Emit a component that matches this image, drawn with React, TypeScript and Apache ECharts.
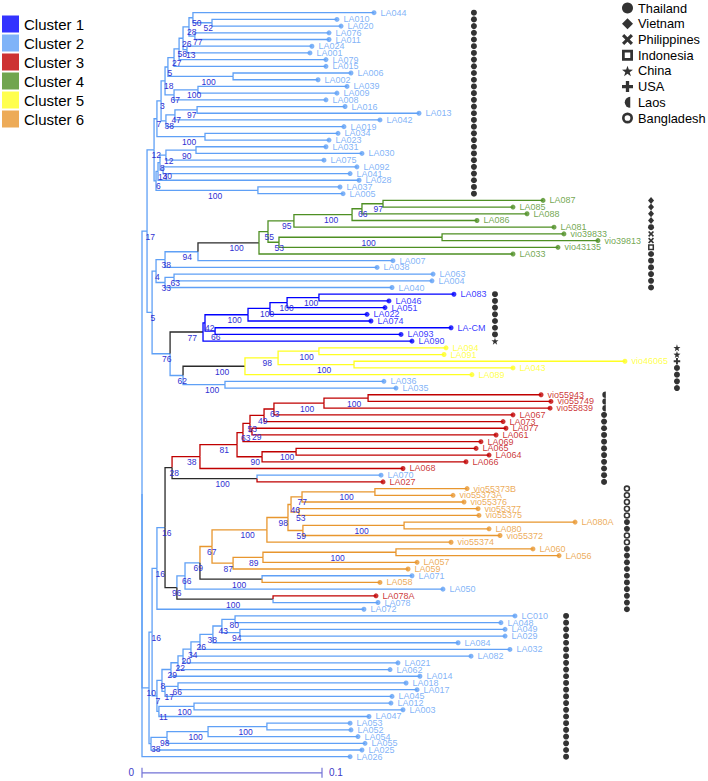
import React, { useEffect, useRef } from "react";
import * as echarts from "echarts";

// ---------------- DATA ----------------
const leafNames: string[] = [
  "LA044","LA010","LA020","LA076","LA011","LA024","LA001","LA079","LA015","LA006","LA002","LA039","LA009","LA008",
  "LA016","LA013","LA042","LA019","LA034","LA023","LA031","LA030","LA075","LA092","LA041","LA028","LA037","LA005",
  "LA087","LA085","LA088","LA086","LA081","vio39833","vio39813","vio43135","LA033","LA007","LA038","LA063","LA004","LA040",
  "LA083","LA046","LA051","LA022","LA074","LA-CM","LA093","LA090",
  "LA094","LA091","vio46065","LA043","LA089","LA036","LA035",
  "vio55943","vio55749","vio55839","LA067","LA073","LA077","LA061","LA069","LA065","LA064","LA066","LA068","LA070","LA027",
  "vio55373B","vio55373A","vio55376","vio55377","vio55375","LA080A","LA080","vio55372","vio55374","LA060","LA056","LA057",
  "LA059","LA071","LA058","LA050","LA078A","LA078","LA072",
  "LC010","LA048","LA049","LA029","LA084","LA032","LA082","LA021","LA062","LA014","LA018","LA017","LA045","LA012","LA003",
  "LA047","LA053","LA052","LA054","LA055","LA025","LA026",
];

// distance of each tip from the root (substitutions per site)
const leafDepths: number[] = [
  0.1289,0.1083,0.1106,0.1039,0.1039,0.0944,0.0933,0.1022,0.1022,0.1161,0.0978,0.1139,0.1083,0.1022,
  0.1128,0.1539,0.1322,0.1122,0.1089,0.1039,0.1022,0.1222,0.1011,0.1194,0.1156,0.1206,0.1100,0.1117,
  0.2228,0.2061,0.2139,0.1861,0.2289,0.2344,0.2533,0.2311,0.2061,0.1394,0.1306,0.1617,0.1611,0.1389,
  0.1733,0.1372,0.1350,0.1250,0.1272,0.1717,0.1439,0.1500,
  0.1689,0.1678,0.2683,0.2061,0.1833,0.1344,0.1411,
  0.2217,0.2272,0.2267,0.2061,0.2006,0.2022,0.1967,0.1883,0.1856,0.1928,0.1800,0.1450,0.1328,0.1339,
  0.1806,0.1728,0.1789,0.1867,0.1872,0.2406,0.1928,0.1989,0.1717,0.2172,0.2317,0.1528,
  0.1478,0.1500,0.1322,0.1672,0.1300,0.1311,0.1233,
  0.2072,0.1994,0.2017,0.2017,0.1756,0.2044,0.1828,0.1422,0.1378,0.1544,0.1467,0.1528,0.1389,0.1383,0.1450,
  0.1261,0.1156,0.1161,0.1200,0.1239,0.1222,0.1156,
];

const leafClusters: number[] = [
  2,2,2,2,2,2,2,2,2,2,2,2,2,2,
  2,2,2,2,2,2,2,2,2,2,2,2,2,2,
  4,4,4,4,4,4,4,4,4,2,2,2,2,2,
  1,1,1,1,1,1,1,1,
  5,5,5,5,5,2,2,
  3,3,3,3,3,3,3,3,3,3,3,3,2,3,
  6,6,6,6,6,6,6,6,6,6,6,6,
  6,2,6,2,3,2,2,
  2,2,2,2,2,2,2,2,2,2,2,2,2,2,2,
  2,2,2,2,2,2,2,
];

// T Thailand, V Vietnam, P Philippines, I Indonesia, C China, U USA, L Laos, B Bangladesh
const leafCountries: string[] = [
  "T","T","T","T","T","T","T","T","T","T","T","T","T","T",
  "T","T","T","T","T","T","T","T","T","T","T","T","T","T",
  "V","V","V","V","T","P","P","I","T","T","T","T","T","T",
  "T","T","T","T","T","T","T","C",
  "C","C","U","T","T","T","T",
  "L","L","L","T","T","T","T","T","T","T","T","T","T","T",
  "B","B","B","B","B","T","T","B","B","T","T","T",
  "T","T","T","T","T","T","T",
  "T","T","T","T","T","T","T","T","T","T","T","T","T","T","T",
  "T","T","T","T","T","T","T",
];

// internal nodes: id, depth, bootstrap, stem colour (0 = black, 1-6 = cluster), children (tip index or node id)
const treeNodes: [string, number, number | null, number, (number | string)[]][] = [
  ["ROOT", 0, null, 2, ["A17", "B4", 111]],
  ["A17", 0.0028, 17, 2, ["T27", "A5"]],
  ["T27", 0.0067, 12, 2, ["T19", "T26"]],
  ["T19", 0.0083, 7, 2, ["T18", "T17"]],
  ["T18", 0.0106, 3, 2, ["T13", "T16"]],
  ["T13", 0.0128, 18, 2, ["T10", "T12"]],
  ["T10", 0.0144, 5, 2, ["T8", "T9"]],
  ["T8", 0.0178, 27, 2, ["T7", 8]],
  ["T7", 0.0206, 58, 2, ["T6", 7]],
  ["T6", 0.0228, 26, 2, ["T4", "T5"]],
  ["T4", 0.0261, 28, 2, ["T2", "T3"]],
  ["T2", 0.0283, 50, 2, [0, "T1"]],
  ["T1", 0.0389, 52, 2, [1, 2]],
  ["T3", 0.0294, 77, 2, [3, 4]],
  ["T5", 0.0250, 13, 2, [5, 6]],
  ["T9", 0.0506, 100, 2, [9, 10]],
  ["T12", 0.0178, 67, 2, ["T11", 13]],
  ["T11", 0.0311, 100, 2, [11, 12]],
  ["T16", 0.0133, 38, 2, ["T15", 17]],
  ["T15", 0.0183, 47, 2, ["T14", 16]],
  ["T14", 0.0306, 97, 2, [14, 15]],
  ["T17", 0.0350, 100, 2, [18, 19]],
  ["T26", 0.0078, 6, 2, ["T24", "T25"]],
  ["T24", 0.0089, 14, 2, ["T23", 25]],
  ["T23", 0.0100, 8, 2, ["T21", "T22"]],
  ["T21", 0.0133, 12, 2, ["T20", 22]],
  ["T20", 0.0300, 90, 2, [20, 21]],
  ["T22", 0.0117, 30, 2, [23, 24]],
  ["T25", 0.0644, 100, 2, [26, 27]],
  ["A5", 0.0056, 5, 2, ["A4", "A76"]],
  ["A4", 0.0078, 4, 2, ["A38", "A33"]],
  ["A38", 0.0128, 38, 2, ["A94", 38]],
  ["A94", 0.0311, 94, 2, ["G8", 37]],
  ["G8", 0.0650, 100, 0, ["G7", 36]],
  ["G7", 0.0700, 55, 4, ["G4", "G6"]],
  ["G4", 0.0844, 95, 4, ["G3", 32]],
  ["G3", 0.1167, 100, 4, ["G2", 31]],
  ["G2", 0.1222, 66, 4, ["G1", 30]],
  ["G1", 0.1339, 97, 4, [28, 29]],
  ["G6", 0.0761, 53, 4, ["G5", 35]],
  ["G5", 0.1667, 100, 4, [33, 34]],
  ["A33", 0.0128, 33, 2, ["A63", 41]],
  ["A63", 0.0178, 63, 2, [39, 40]],
  ["A76", 0.0156, 76, 2, ["C7", "A62"]],
  ["C7", 0.0339, 77, 0, ["C6", 49]],
  ["C6", 0.0350, 42, 1, ["C4", "C5"]],
  ["C4", 0.0589, 100, 1, ["C3", 46]],
  ["C3", 0.0711, 100, 1, ["C2", 45]],
  ["C2", 0.0806, 100, 1, ["C1", 44]],
  ["C1", 0.0983, 100, 1, [42, 43]],
  ["C5", 0.0406, 66, 1, [47, 48]],
  ["A62", 0.0228, 62, 2, ["Y4", "A35"]],
  ["Y4", 0.0572, 100, 0, ["Y3", 54]],
  ["Y3", 0.0756, 98, 5, ["Y1", "Y2"]],
  ["Y1", 0.0983, 100, 5, [50, 51]],
  ["Y2", 0.1178, 100, 5, [52, 53]],
  ["A35", 0.0461, 100, 2, [55, 56]],
  ["B4", 0.0039, 10, 2, ["B3", "Q4"]],
  ["B3", 0.0056, 16, 2, ["B2", "P13"]],
  ["B2", 0.0083, 16, 2, ["B1", 89]],
  ["B1", 0.0128, 16, 2, ["K28", "O14"]],
  ["K28", 0.0167, 28, 0, ["R10", "K100"]],
  ["R10", 0.0322, 38, 3, ["R7", 68]],
  ["R7", 0.0528, 81, 3, ["R6", "R9"]],
  ["R6", 0.0561, 63, 3, ["R5", 64]],
  ["R5", 0.0600, 53, 3, ["R4", "R5a"]],
  ["R4", 0.0678, 49, 3, ["R3", 61]],
  ["R3", 0.0733, 63, 3, ["R2", 60]],
  ["R2", 0.1011, 100, 3, ["R1", 59]],
  ["R1", 0.1256, 100, 3, [57, 58]],
  ["R5a", 0.0611, 29, 3, [62, 63]],
  ["R9", 0.0667, 90, 3, ["R8", 67]],
  ["R8", 0.0856, 100, 3, [65, 66]],
  ["K100", 0.0639, 100, 0, [69, 70]],
  ["O14", 0.0194, 96, 0, ["O13", "K78"]],
  ["O13", 0.0239, 66, 2, ["O12", 86]],
  ["O12", 0.0322, 69, 2, ["O9", "K71"]],
  ["O9", 0.0389, 67, 6, ["O8", "O11"]],
  ["O8", 0.0694, 100, 6, ["O7", 79]],
  ["O7", 0.0811, 98, 6, ["O4", "O6"]],
  ["O4", 0.0828, 46, 6, ["O2", "O3"]],
  ["O2", 0.0889, 77, 6, ["O1", 73]],
  ["O1", 0.1294, 100, 6, [71, 72]],
  ["O3", 0.0872, 53, 6, [74, 75]],
  ["O6", 0.0894, 59, 6, ["O5", 78]],
  ["O5", 0.1456, 100, 6, [76, 77]],
  ["O11", 0.0506, 87, 6, ["O11a", 83]],
  ["O11a", 0.0672, 89, 6, ["O10", 82]],
  ["O10", 0.1411, 100, 6, [80, 81]],
  ["K71", 0.0667, 100, 0, [84, 85]],
  ["K78", 0.0728, 100, 0, [87, 88]],
  ["P13", 0.0083, 7, 2, ["P12", "Q6"]],
  ["P12", 0.0111, 8, 2, ["P9", "P11"]],
  ["P9", 0.0161, 29, 2, ["P8", 99]],
  ["P8", 0.0200, 22, 2, ["P7", 98]],
  ["P7", 0.0228, 20, 2, ["P6", 97]],
  ["P6", 0.0272, 34, 2, ["P5", 96]],
  ["P5", 0.0322, 26, 2, ["P4", 95]],
  ["P4", 0.0394, 38, 2, ["P3", 94]],
  ["P3", 0.0444, 43, 2, ["P1", "P2"]],
  ["P1", 0.0517, 80, 2, [90, 91]],
  ["P2", 0.0544, 94, 2, [92, 93]],
  ["P11", 0.0128, 17, 2, ["P10", 102]],
  ["P10", 0.0200, 66, 2, [100, 101]],
  ["Q6", 0.0094, 11, 2, ["Q5", 105]],
  ["Q5", 0.0289, 100, 2, [103, 104]],
  ["Q4", 0.0050, 38, 2, ["Q3", 110]],
  ["Q3", 0.0139, 98, 2, ["Q2", 109]],
  ["Q2", 0.0367, 100, 2, ["Q1", 108]],
  ["Q1", 0.0694, 100, 2, [106, 107]],
];

const clusterNames = ["Cluster 1", "Cluster 2", "Cluster 3", "Cluster 4", "Cluster 5", "Cluster 6"];
const countryNames = ["Thailand", "Vietnam", "Philippines", "Indonesia", "China", "USA", "Laos", "Bangladesh"];
const countryCodes = ["T", "V", "P", "I", "C", "U", "L", "B"];
const scaleBarValues = [0, 0.1];

// ---------------- STYLE / LAYOUT ----------------
const FONT = '"Liberation Sans", Arial, Helvetica, sans-serif';
const COLORS = ["#2a2a2a", "#0000FF", "#5FA0F6", "#C00000", "#4E8F23", "#FFFF22", "#E8962E"];
const BS_COLOR = "#2f2fd2";
// marker columns: [first tip, last tip, x position in axis units]
const markerColumns: [number, number, number][] = [
  [0, 27, 0.1844], [28, 41, 0.2828], [42, 49, 0.1961], [50, 56, 0.2972],
  [57, 70, 0.2567], [71, 89, 0.2694], [90, 111, 0.2356],
];
const SCALE_Y = 113.4;

const P_CROSS = "path://M0,2L2,0L5,3L8,0L10,2L7,5L10,8L8,10L5,7L2,10L0,8L3,5Z";
const P_HSQUARE = "path://M0,0H10V10H0Z M2.5,2.5V7.5H7.5V2.5Z";
const P_STAR = "path://M5,0L6.2,3.5L10,3.6L7,5.9L8.1,9.5L5,7.4L1.9,9.5L3,5.9L0,3.6L3.8,3.5Z";
const P_PLUS = "path://M3.5,0H6.5V3.5H10V6.5H6.5V10H3.5V6.5H0V3.5H3.5Z";
const P_HALF = "path://M6,0A6,6,0,0,0,6,12Z";
const P_RING = "path://M5,0A5,5,0,1,1,5,10A5,5,0,1,1,5,0Z M5,2.4A2.6,2.6,0,1,0,5,7.6A2.6,2.6,0,1,0,5,2.4Z";

const countrySymbols: Record<string, { symbol: string; size: number | number[] }> = {
  T: { symbol: "circle", size: 6 },
  V: { symbol: "diamond", size: [6, 7] },
  P: { symbol: P_CROSS, size: 6 },
  I: { symbol: P_HSQUARE, size: 6 },
  C: { symbol: P_STAR, size: 7 },
  U: { symbol: P_PLUS, size: 6.5 },
  L: { symbol: P_HALF, size: [3.5, 6.5] },
  B: { symbol: P_RING, size: 6.5 },
};

// ---------------- BUILD TREE GEOMETRY ----------------
type TNode = { id: string; x: number; bs: number | null; color: number; children: (number | string)[]; y?: number };
function buildTree() {
  const map = new Map<string, TNode>();
  treeNodes.forEach((n) => map.set(n[0], { id: n[0], x: n[1], bs: n[2], color: n[3], children: n[4] }));
  const getY = (ref: number | string): number => {
    if (typeof ref === "number") return ref;
    const n = map.get(ref)!;
    if (n.y === undefined) {
      const ys = n.children.map(getY);
      n.y = (ys[0] + ys[ys.length - 1]) / 2;
    }
    return n.y;
  };
  const getX = (ref: number | string) => (typeof ref === "number" ? leafDepths[ref] : map.get(ref)!.x);
  const getC = (ref: number | string) => (typeof ref === "number" ? leafClusters[ref] : map.get(ref)!.color);
  const edges: number[][] = [];
  const labels: number[][] = [];
  treeNodes.forEach((t) => {
    const node = map.get(t[0])!;
    const py = getY(node.id);
    node.children.forEach((c) => {
      edges.push([node.x, py, getX(c), getY(c), getC(c)]);
      if (typeof c === "string") {
        const cn = map.get(c)!;
        if (cn.bs !== null) labels.push([(node.x + cn.x) / 2, getY(c), cn.bs]);
      }
    });
  });
  return { edges, labels };
}

function columnX(i: number): number {
  const col = markerColumns.find((c) => i >= c[0] && i <= c[1]);
  return col ? col[2] : 0;
}

export default function App() {
  const ref = useRef<HTMLDivElement>(null);
  useEffect(() => {
    if (!ref.current) return;
    const chart = echarts.init(ref.current, undefined, { renderer: "svg" });
    const { edges, labels } = buildTree();

    const tipSeries = clusterNames.map((name, k) => ({
      type: "scatter",
      name,
      symbol: "circle",
      symbolSize: 5,
      z: 4,
      silent: true,
      itemStyle: { color: COLORS[k + 1] },
      label: {
        show: true, position: "right", distance: 4, formatter: "{b}",
        fontSize: 9, fontFamily: FONT, color: COLORS[k + 1],
      },
      data: leafNames
        .map((nm, i) => (leafClusters[i] === k + 1 ? { name: nm, value: [leafDepths[i], i] } : null))
        .filter((d) => d !== null),
    }));

    const countrySeries = countryNames.map((name, k) => {
      const code = countryCodes[k];
      const s = countrySymbols[code];
      return {
        type: "scatter",
        name,
        symbol: s.symbol,
        symbolSize: s.size,
        z: 4,
        silent: true,
        itemStyle: { color: "#000" },
        data: leafCountries
          .map((c, i) => (c === code ? [columnX(i), i] : null))
          .filter((d) => d !== null),
      };
    });

    const option: any = {
      animation: false,
      backgroundColor: "#fff",
      grid: { left: 142, right: 26, top: 12.7, bottom: 24.3, containLabel: false },
      xAxis: { type: "value", min: 0, max: 0.3, show: false },
      yAxis: { type: "value", min: 0, max: 111, inverse: true, show: false },
      legend: [
        {
          data: clusterNames.map((n) => ({ name: n, icon: "rect" })),
          orient: "vertical", left: 2, top: 15.5, padding: 0, itemWidth: 17, itemHeight: 17, itemGap: 2,
          selectedMode: false,
          textStyle: { fontSize: 15, fontFamily: FONT, color: "#000", lineHeight: 17 },
        },
        {
          data: countryNames.map((n, k) => ({ name: n, icon: countrySymbols[countryCodes[k]].symbol })),
          orient: "vertical", left: 622, top: 1.6, padding: 0, itemWidth: 11, itemHeight: 11, itemGap: 2.7,
          selectedMode: false,
          textStyle: { fontSize: 12.8, fontFamily: FONT, color: "#000", lineHeight: 12 },
        },
      ],
      series: [
        {
          type: "custom",
          name: "branches",
          coordinateSystem: "cartesian2d",
          clip: false,
          silent: true,
          z: 2,
          encode: { x: [0, 2], y: [1, 3] },
          data: edges,
          renderItem: (_p: any, api: any) => {
            const x1 = api.value(0), y1 = api.value(1), x2 = api.value(2), y2 = api.value(3);
            const a = api.coord([x1, y1]);
            const b = api.coord([x1, y2]);
            const c = api.coord([x2, y2]);
            return {
              type: "polyline",
              shape: { points: [a, b, c] },
              style: { stroke: COLORS[api.value(4)], lineWidth: 1.3, fill: null, lineJoin: "miter" },
            };
          },
        },
        {
          type: "custom",
          name: "bootstrap",
          coordinateSystem: "cartesian2d",
          clip: false,
          silent: true,
          z: 3,
          encode: { x: 0, y: 1 },
          data: labels,
          renderItem: (_p: any, api: any) => {
            const p = api.coord([api.value(0), api.value(1)]);
            return {
              type: "text",
              x: p[0] + 1,
              y: p[1] + 5.5,
              style: {
                text: String(api.value(2)), fill: BS_COLOR, fontSize: 8.5, fontFamily: FONT,
                align: "left", verticalAlign: "middle",
              },
            };
          },
        },
        {
          type: "custom",
          name: "scalebar",
          coordinateSystem: "cartesian2d",
          clip: false,
          silent: true,
          encode: { x: [0, 1], y: 2 },
          data: [[scaleBarValues[0], scaleBarValues[1], SCALE_Y]],
          renderItem: (_p: any, api: any) => {
            const a = api.coord([api.value(0), api.value(2)]);
            const b = api.coord([api.value(1), api.value(2)]);
            const st = { stroke: "#7272d6", lineWidth: 1.2 };
            return {
              type: "group",
              children: [
                { type: "line", shape: { x1: a[0], y1: a[1], x2: b[0], y2: b[1] }, style: st },
                { type: "line", shape: { x1: a[0], y1: a[1] - 5, x2: a[0], y2: a[1] + 5 }, style: st },
                { type: "line", shape: { x1: b[0], y1: b[1] - 5, x2: b[0], y2: b[1] + 5 }, style: st },
                {
                  type: "text", x: a[0] - 8, y: a[1],
                  style: { text: String(scaleBarValues[0]), fill: "#3a3ac8", fontSize: 10, fontFamily: FONT, align: "right", verticalAlign: "middle" },
                },
                {
                  type: "text", x: b[0] + 7, y: b[1],
                  style: { text: String(scaleBarValues[1]), fill: "#3a3ac8", fontSize: 10, fontFamily: FONT, align: "left", verticalAlign: "middle" },
                },
              ],
            };
          },
        },
        ...tipSeries,
        ...countrySeries,
      ],
    };
    chart.setOption(option);
    return () => chart.dispose();
  }, []);

  return (
    <div
      ref={ref}
      style={{ position: "fixed", left: 0, top: 0, width: 708, height: 781, background: "#fff" }}
    />
  );
}
